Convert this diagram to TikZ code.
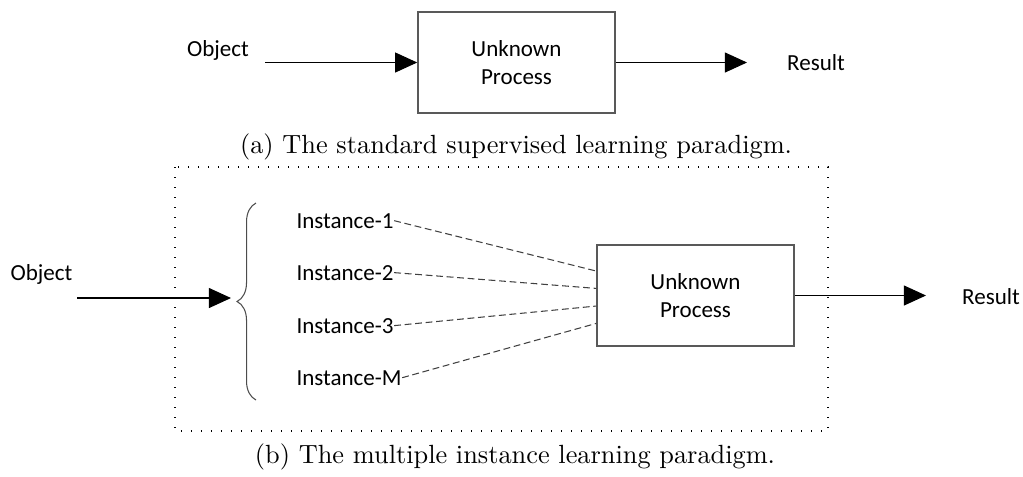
\documentclass[tikz,border=0pt]{standalone}
\usepackage{fontspec}
\newfontfamily\labelfont{Carlito}
\usetikzlibrary{arrows.meta,decorations.pathreplacing}

\begin{document}
\begin{tikzpicture}[x=.38pt,y=-.38pt,>={Triangle[length=8.4pt,width=7.6pt]},line width=.4pt,
  font=\labelfont\fontsize{8.75}{10.64}\selectfont,
  proc/.style={draw=black!65,line width=.55pt,minimum width=74.9pt,minimum height=38.4pt,inner sep=0pt,align=center},
  lbl/.style={anchor=base,inner sep=0pt},
  inst/.style={anchor=base west,inner sep=0pt},
  captext/.style={anchor=base,inner sep=0pt,font=\rmfamily\fontsize{10}{12}\selectfont},
  link/.style={draw=black!75,dash pattern=on 2.6pt off 1.4pt}]
  \useasboundingbox (0,0) rectangle (1023,476);
  % (a) standard supervised learning
  \node[lbl] (obja) at (218,56) {Object};
  \coordinate (ina) at (265,62.5);
  \node[proc] (boxa) at (516.5,62.5) {Unknown\\Process};
  \coordinate (outa) at (747,62.5);
  \node[lbl] (resa) at (816,70) {Result};
  \draw[->] (ina)--(boxa);
  \draw[->] (boxa)--(outa);
  \node[captext] (capa) at (516,153) {(a) The standard supervised learning paradigm.};
  % (b) multiple instance learning
  \draw[line width=.5pt,dash pattern=on .5pt off 3.3pt] (175,167) rectangle (828,431);
  \node[lbl] (objb) at (41.5,280) {Object};
  \coordinate (inb) at (77,298);
  \coordinate (tip) at (231,298);
  \coordinate (bt) at (256,203);
  \coordinate (bb) at (256,400);
  \draw[->] (inb)--(tip);
  \draw[draw=black!70,decorate,decoration={brace,amplitude=7.2pt}] (bb)--(bt);
  \foreach \n/\y in {1/228,2/280,3/333,M/385}
    \node[inst] (ins\n) at (296,\y) {Instance-\n};
  \node[proc] (boxb) at (695.5,295.5) {Unknown\\Process};
  \foreach \n/\s in {1/9.3,2/2.7,3/-4,M/-10.6}
    \draw[link] (ins\n.east)--([yshift=\s pt]boxb.west);
  \coordinate (outb) at (926,295.5);
  \node[lbl] (resb) at (991,304) {Result};
  \draw[->] (boxb)--(outb);
  \node[captext] (capb) at (515,463) {(b) The multiple instance learning paradigm.};
\end{tikzpicture}
\end{document}
